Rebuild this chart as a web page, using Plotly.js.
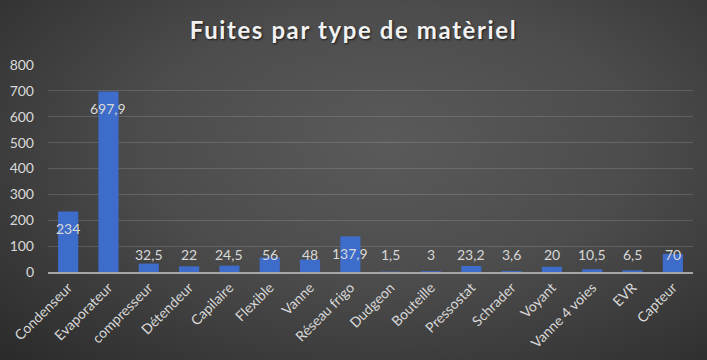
<!DOCTYPE html>
<html>
<head>
<meta charset="utf-8">
<script src="https://cdn.plot.ly/plotly-3.0.1.min.js"></script>
<style>
html,body{margin:0;padding:0;width:707px;height:360px;overflow:hidden;}
body{background:radial-gradient(ellipse farthest-corner at 55% 40%, #5a5a5a 0%, #4c4c4c 45%, #2a2a2a 100%);}
#chart{width:707px;height:360px;}
.gtitle{letter-spacing:1.6px;}
</style>
</head>
<body>
<div id="chart"></div>
<script>
const categories = ["Condenseur","Evaporateur","compresseur","Détendeur","Capilaire","Flexible","Vanne","Réseau frigo","Dudgeon","Bouteille","Pressostat","Schrader","Voyant","Vanne 4 voies","EVR","Capteur"];
const values = [234, 697.9, 32.5, 22, 24.5, 56, 48, 137.9, 1.5, 3, 23.2, 3.6, 20, 10.5, 6.5, 70];
const yTicks = [0,100,200,300,400,500,600,700,800];

const fmt = v => String(v).replace('.', ',');
const labelFont = {family:'Lato, "Open Sans", sans-serif', size:14, color:'#d9d9d9'};

const annotations = values.map((v,i)=>({
  x: categories[i], y: Math.max(v, 132), xref:'x', yref:'y',
  text: fmt(v), showarrow:false, yshift:-17, font: labelFont
}));

const trace = {
  type:'bar', x: categories, y: values,
  marker:{color:'#3d6cca', line:{width:0}},
  width:0.5, hoverinfo:'none'
};

const layout = {
  width:707, height:360,
  paper_bgcolor:'rgba(0,0,0,0)', plot_bgcolor:'rgba(0,0,0,0)',
  margin:{l:48, r:14, t:65, b:88},
  title:{text:'<b>Fuites par type de matèriel</b>', x:0.5, xanchor:'center', y:0.915, yanchor:'middle',
    font:{family:'Lato, "Open Sans", sans-serif', size:24, color:'#f2f2f2', shadow:'1px 1px 2px #1a1a1a'}},
  xaxis:{tickangle:-45, tickfont:labelFont, showline:true, linecolor:'#a6a6a6', linewidth:2,
    showgrid:false, zeroline:false, ticks:''},
  yaxis:{range:[0,800], tickvals:yTicks, ticktext:yTicks.map(String), tickfont:labelFont,
    gridcolor:'rgba(255,255,255,0.14)', gridwidth:1, zeroline:false, showline:false, ticklabelstandoff:13},
  annotations: annotations,
  showlegend:false
};

Plotly.newPlot('chart',[trace],layout,{displayModeBar:false, staticPlot:true});
</script>
</body>
</html>
